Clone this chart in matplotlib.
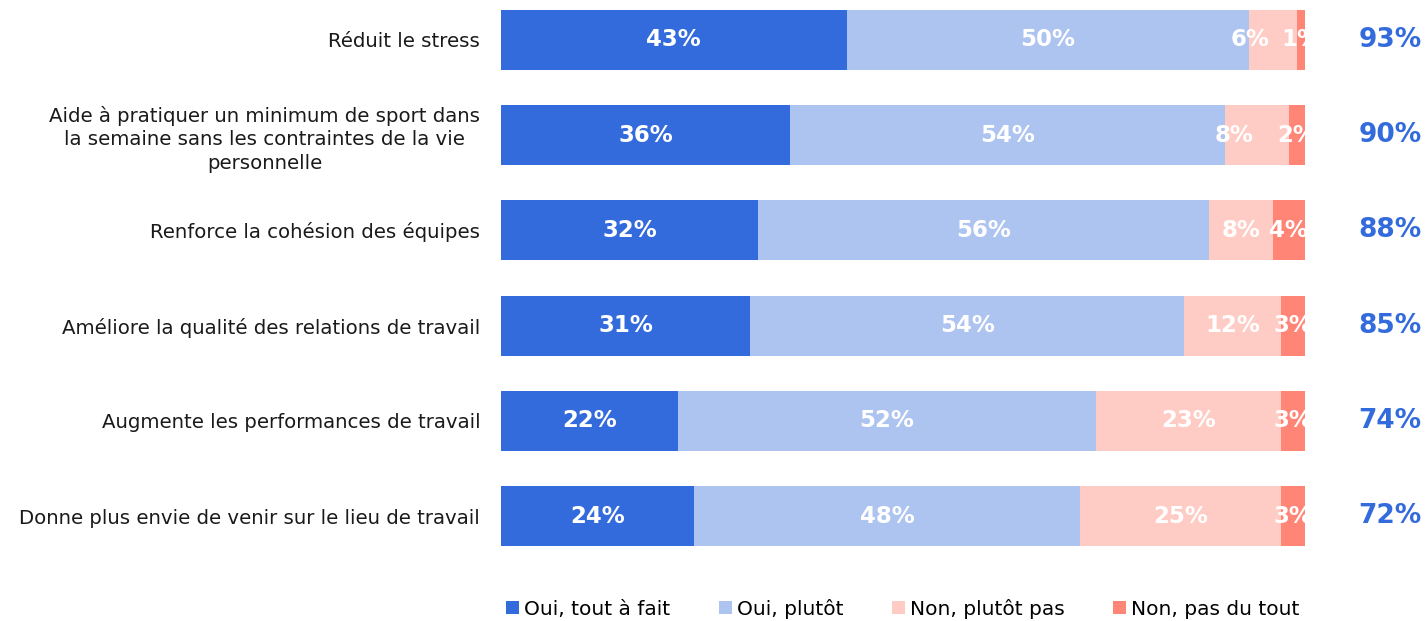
import matplotlib.pyplot as plt
import numpy as np
from matplotlib.transforms import blended_transform_factory

# data
categories = [
    "Réduit le stress",
    "Aide à pratiquer un minimum de sport dans\nla semaine sans les contraintes de la vie\npersonnelle",
    "Renforce la cohésion des équipes",
    "Améliore la qualité des relations de travail",
    "Augmente les performances de travail",
    "Donne plus envie de venir sur le lieu de travail",
]
series_names = ["Oui, tout à fait", "Oui, plutôt", "Non, plutôt pas", "Non, pas du tout"]
oui_tout = [43, 36, 32, 31, 22, 24]
oui_plutot = [50, 54, 56, 54, 52, 48]
non_plutot = [6, 8, 8, 12, 23, 25]
non_tout = [1, 2, 4, 3, 3, 3]
totals = [93, 90, 88, 85, 74, 72]

colors = ["#336BDD", "#ADC4F0", "#FFCCC5", "#FF8576"]

plt.rcParams['font.family'] = ['DejaVu Sans']

fig = plt.figure(figsize=(14.26, 6.21), dpi=100)
ax = fig.add_axes([501 / 1426, 65 / 621, 804 / 1426, 556 / 621])

all_series = [oui_tout, oui_plutot, non_plutot, non_tout]
y = np.arange(len(categories))
left = np.zeros(len(categories))
for k, (name, vals, col) in enumerate(zip(series_names, all_series, colors)):
    vals = np.array(vals, dtype=float)
    ax.barh(y, vals, left=left, height=0.63, color=col, label=name)
    for i, (yi, l, v) in enumerate(zip(y, left, vals)):
        xpos = l + v / 2
        # nudge label left when the next segment is very thin (like the original)
        if k + 1 < len(all_series) and all_series[k + 1][i] <= 2:
            xpos -= 2.8
        ax.text(xpos, yi, f"{int(v)}%", ha='center', va='center',
                color='white', fontsize=16.5, fontweight='bold', clip_on=True)
    left += vals

trans = blended_transform_factory(ax.transAxes, ax.transData)
for yi, t in zip(y, totals):
    ax.text(1.106, yi, f"{t}%", transform=trans, ha='center', va='center',
            color="#336BDD", fontsize=19, fontweight='bold', clip_on=False)

ax.set_xlim(0, 100)
ax.set_ylim(5.42, -0.42)
ax.set_yticks(y)
ax.set_yticklabels(categories, fontsize=14.2, color='#1a1a1a')
for lab in ax.get_yticklabels():
    lab.set_multialignment('center')
    lab.set_linespacing(1.3)
ax.tick_params(axis='y', length=0, pad=15)
ax.set_xticks([])
for s in ax.spines.values():
    s.set_visible(False)

fig.legend(loc='center', bbox_to_anchor=(0.633, 0.02), ncol=4, frameon=False,
           fontsize=14.5, handlelength=0.65, handleheight=0.65, handletextpad=0.25,
           columnspacing=2.4)

fig.savefig("out.png", dpi=100)
